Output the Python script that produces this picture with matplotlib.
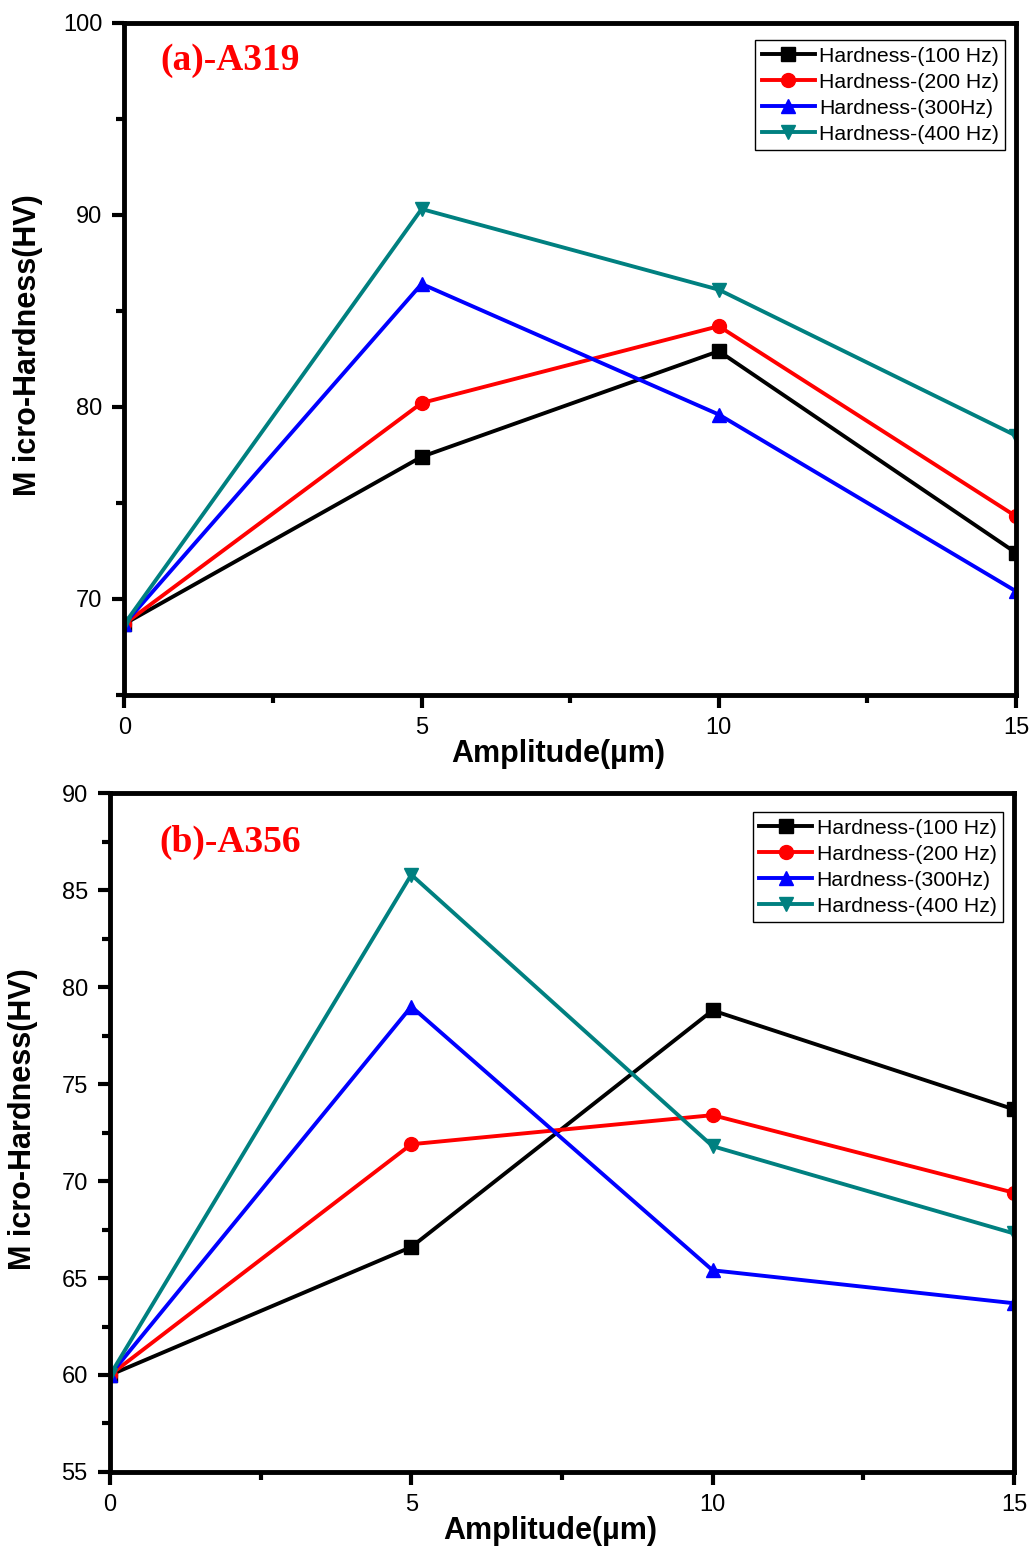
import numpy as np
import matplotlib.pyplot as plt
from matplotlib.ticker import MultipleLocator

plt.rcParams["font.family"] = ["Liberation Sans", "DejaVu Sans"]

amplitude = [0, 5, 10, 15]
freq_lbl  = ["Hardness-(100 Hz)", "Hardness-(200 Hz)", "Hardness-(300Hz)", "Hardness-(400 Hz)"]
colors    = ["#000000", "#ff0000", "#0000ff", "#008080"]
markers   = ["s", "o", "^", "v"]

# micro-hardness (HV) for the A319 alloy
hv_a319 = [[68.7, 77.4, 82.9, 72.4],
           [68.7, 80.2, 84.2, 74.3],
           [68.7, 86.4, 79.6, 70.4],
           [68.7, 90.3, 86.1, 78.5]]

# micro-hardness (HV) for the A356 alloy
hv_a356 = [[60.0, 66.6, 78.8, 73.7],
           [60.0, 71.9, 73.4, 69.4],
           [60.0, 79.0, 65.4, 63.7],
           [60.0, 85.8, 71.8, 67.3]]


def draw_panel(ax, hv, ylim, ymajor, yminor, tag, tag_xy, leg_xy, ylab_x):
    for i in range(len(hv)):
        ax.plot(amplitude, hv[i], color=colors[i], marker=markers[i], lw=2.8,
                markersize=10, label=freq_lbl[i], zorder=2)

    ax.set_xlim(0, 15)
    ax.set_ylim(*ylim)
    ax.xaxis.set_major_locator(MultipleLocator(5))
    ax.xaxis.set_minor_locator(MultipleLocator(2.5))
    ax.yaxis.set_major_locator(MultipleLocator(ymajor))
    ax.yaxis.set_minor_locator(MultipleLocator(yminor))
    ax.tick_params(which="major", direction="out", length=9, width=3,
                   labelsize=17, pad=7, top=False, right=False)
    ax.tick_params(which="minor", direction="out", length=6, width=3,
                   top=False, right=False)
    for s in ax.spines.values():
        s.set_linewidth(3.5)
        s.set_zorder(5)

    ax.set_xlabel("Amplitude(µm)", fontsize=22, fontweight="bold")
    ax.set_ylabel("M icro-Hardness(HV)", fontsize=22, fontweight="bold")
    ax.xaxis.set_label_coords(0.487, -0.065)
    ax.yaxis.set_label_coords(ylab_x, 0.52)

    ax.text(tag_xy[0], tag_xy[1], tag, transform=ax.transAxes, color="#ff0000",
            fontsize=27, fontweight="bold", family="Liberation Serif", va="center")

    leg = ax.legend(loc="upper right", bbox_to_anchor=leg_xy, fontsize=15.3,
                    handlelength=2.5, handletextpad=0.2, labelspacing=0.33,
                    borderpad=0.3, borderaxespad=0, fancybox=False, framealpha=1)
    leg.get_frame().set_edgecolor("black")
    leg.get_frame().set_linewidth(1.0)


fig = plt.figure(figsize=(10.33, 15.46), dpi=100)

ax1 = fig.add_axes([0.1205, 0.5505, 0.863, 0.4348])
draw_panel(ax1, hv_a319, (65, 100), 10, 5, "(a)-A319", (0.04, 0.944),
           (0.988, 0.974), -0.091)

ax2 = fig.add_axes([0.1065, 0.0479, 0.875, 0.439])
draw_panel(ax2, hv_a356, (55, 90), 5, 2.5, "(b)-A356", (0.055, 0.927),
           (0.988, 0.972), -0.08)

plt.savefig("out.png", dpi=100)
plt.close()
